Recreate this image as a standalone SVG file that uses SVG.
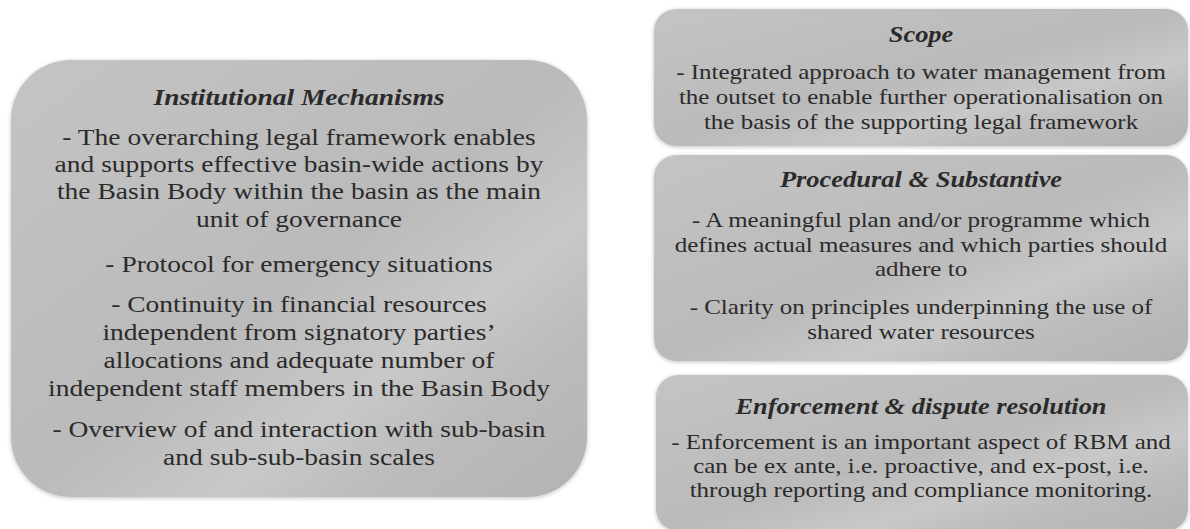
<svg xmlns="http://www.w3.org/2000/svg" width="1190" height="529" viewBox="0 0 1190 529">
<style>
.box{fill:url(#g);filter:url(#sh);}
.t{fill:#2b2b2b;text-anchor:middle;}
.h{font-weight:bold;font-style:italic;}
.l{font-size:24px;}
.r{font-size:22px;}
.rh{font-size:23.3px;}
</style>
<defs>
<linearGradient id="g" x1="0" y1="0" x2="1" y2="1">
<stop offset="0" stop-color="#c4c4c4"/>
<stop offset="0.5" stop-color="#bababa"/>
<stop offset="0.68" stop-color="#c8c8c8"/>
<stop offset="0.8" stop-color="#bcbcbc"/>
<stop offset="1" stop-color="#b3b3b3"/>
</linearGradient>
<filter id="sh" x="-5%" y="-5%" width="110%" height="110%">
<feGaussianBlur in="SourceAlpha" stdDeviation="2"/>
<feOffset dx="0" dy="1"/>
<feComponentTransfer><feFuncA type="linear" slope="0.25"/></feComponentTransfer>
<feMerge><feMergeNode/><feMergeNode in="SourceGraphic"/></feMerge>
</filter>
</defs>
<g id="connectors"></g>
<g font-family="Liberation Serif, Times New Roman, DejaVu Serif, serif">
<g id="institutional">
<rect class="box" x="11" y="60" width="576" height="437" rx="60" ry="60"/>
<g transform="translate(299,0) scale(1.146,1)">
<text class="t l h" x="0" y="105">Institutional Mechanisms</text>
<text class="t l" x="0" y="145">- The overarching legal framework enables</text>
<text class="t l" x="0" y="172">and supports effective basin-wide actions by</text>
<text class="t l" x="0" y="199">the Basin Body within the basin as the main</text>
<text class="t l" x="0" y="227">unit of governance</text>
<text class="t l" x="0" y="272">- Protocol for emergency situations</text>
<text class="t l" x="0" y="312">- Continuity in financial resources</text>
<text class="t l" x="0" y="340">independent from signatory parties’</text>
<text class="t l" x="0" y="368">allocations and adequate number of</text>
<text class="t l" x="0" y="396">independent staff members in the Basin Body</text>
<text class="t l" x="0" y="437">- Overview of and interaction with sub-basin</text>
<text class="t l" x="0" y="465">and sub-sub-basin scales</text>
</g>
</g>
<g id="scope">
<rect class="box" x="654" y="9" width="534" height="137" rx="22" ry="22"/>
<g transform="translate(921,0) scale(1.136,1)">
<text class="t rh h" x="0" y="42">Scope</text>
<text class="t r" x="0" y="79">- Integrated approach to water management from</text>
<text class="t r" x="0" y="104">the outset to enable further operationalisation on</text>
<text class="t r" x="0" y="129">the basis of the supporting legal framework</text>
</g>
</g>
<g id="procedural">
<rect class="box" x="654" y="155" width="534" height="206" rx="22" ry="22"/>
<g transform="translate(921,0) scale(1.136,1)">
<text class="t rh h" x="0" y="187">Procedural &amp; Substantive</text>
<text class="t r" x="0" y="227">- A meaningful plan and/or programme which</text>
<text class="t r" x="0" y="252">defines actual measures and which parties should</text>
<text class="t r" x="0" y="276">adhere to</text>
<text class="t r" x="0" y="314">- Clarity on principles underpinning the use of</text>
<text class="t r" x="0" y="339">shared water resources</text>
</g>
</g>
<g id="enforcement">
<rect class="box" x="656" y="375" width="532" height="156" rx="22" ry="22"/>
<g transform="translate(921,0) scale(1.136,1)">
<text class="t rh h" x="0" y="414">Enforcement &amp; dispute resolution</text>
<text class="t r" x="0" y="449">- Enforcement is an important aspect of RBM and</text>
<text class="t r" x="0" y="473">can be ex ante, i.e. proactive, and ex-post, i.e.</text>
<text class="t r" x="0" y="497">through reporting and compliance monitoring.</text>
</g>
</g>
</g>
</svg>
